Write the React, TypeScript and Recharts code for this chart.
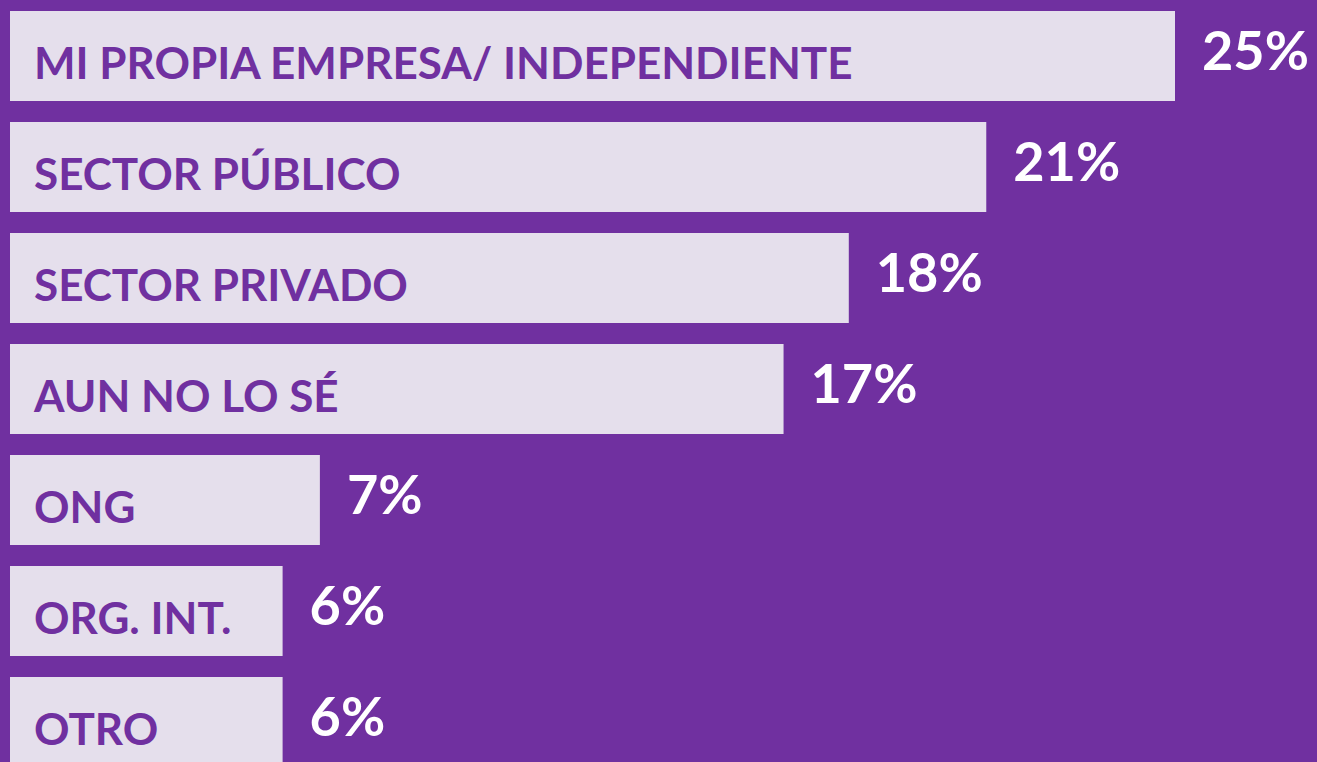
import { BarChart, Bar, XAxis, YAxis, LabelList } from 'recharts'

const categories = [
    'MI PROPIA EMPRESA/ INDEPENDIENTE',
    'SECTOR PÚBLICO',
    'SECTOR PRIVADO',
    'AUN NO LO SÉ',
    'ONG',
    'ORG. INT.',
    'OTRO',
]
const shares = [25, 20.95, 18, 16.6, 6.65, 5.85, 5.85]
const shareLabels = ['25%', '21%', '18%', '17%', '7%', '6%', '6%']

const data = categories.map((name, i) => ({ name, value: shares[i], label: shareLabels[i] }))

const PURPLE = '#7030a0'
const BAR = '#e5dfec'
const FONT = 'Lato, "Open Sans", sans-serif'

function NameLabel(props: any) {
    const { x, y, value } = props
    return (
        <text x={x + 24} y={y + 68} fill={PURPLE} fontFamily={FONT} fontWeight={700} fontSize={44}>
            {value}
        </text>
    )
}

function ValueLabel(props: any) {
    const { x, y, width, value } = props
    return (
        <text x={x + width + 27} y={y + 59} fill="#ffffff" fontFamily={FONT} fontWeight={700} fontSize={54}>
            {value}
        </text>
    )
}

export default function App() {
    return (
        <div style={{ position: 'absolute', left: 0, top: 0, width: 1317, height: 762, overflow: 'hidden', background: PURPLE }}>
            <BarChart
                width={1317}
                height={777}
                data={data}
                layout="vertical"
                margin={{ top: 0, right: 142, bottom: 0, left: 10 }}
                barCategoryGap={0}
            >
                <XAxis type="number" domain={[0, 25]} hide />
                <YAxis type="category" dataKey="name" hide />
                <Bar dataKey="value" fill={BAR} barSize={90} isAnimationActive={false}>
                    <LabelList dataKey="name" content={<NameLabel />} />
                    <LabelList dataKey="label" content={<ValueLabel />} />
                </Bar>
            </BarChart>
        </div>
    )
}
